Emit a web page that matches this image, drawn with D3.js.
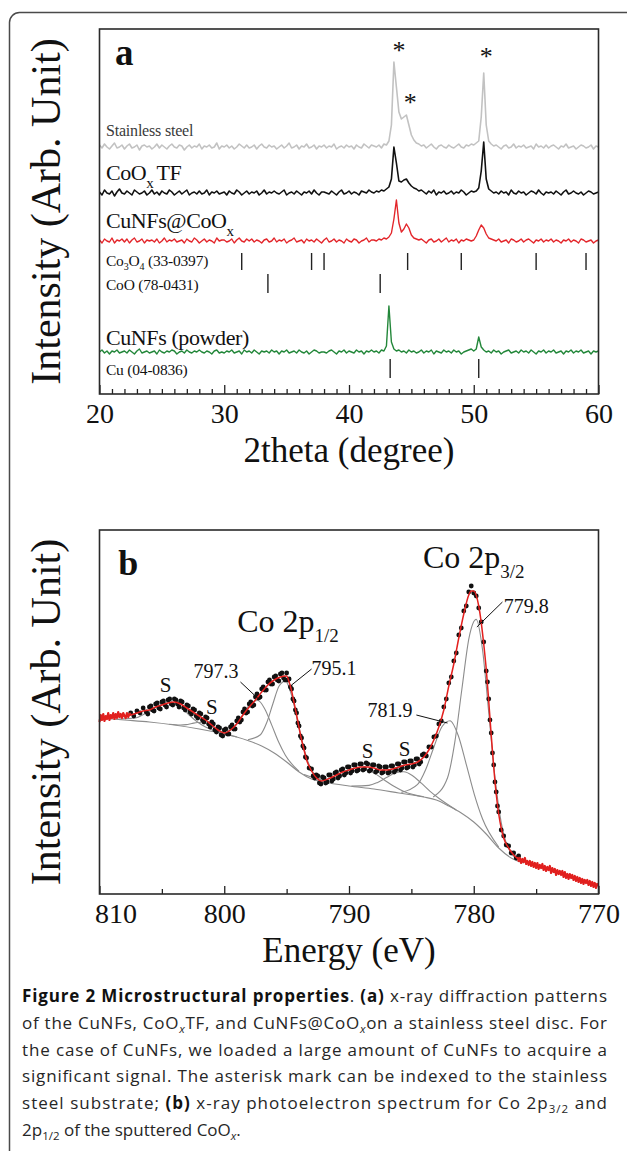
<!DOCTYPE html>
<html>
<head>
<meta charset="utf-8">
<script src="https://cdn.jsdelivr.net/npm/d3@7/dist/d3.min.js"></script>
<style>
  html, body { margin:0; padding:0; background:#fff; }
  svg { display:block; }
  text { white-space: pre; }
</style>
</head>
<body>
<svg id="fig" width="627" height="1151" xmlns="http://www.w3.org/2000/svg"></svg>
<script>
// ================= DATA: panel (a) X-ray diffraction =================
const scanStart = 20;   // first 2theta of scan (degree)
const scanStep = 0.2;   // scan step (degree)
const steelCounts = [
 2,-1,3,0,-2,1,4,-1,0,2, -2,1,3,-1,0,2,-3,1,2,0, 1,-2,0,3,-1,2,0,-2,1,3, 0,-1,2,1,-3,0,2,-1,1,0,
 3,-2,1,0,2,-1,0,4,-2,1, 0,2,-1,1,-2,0,3,1,-1,2, -1,0,2,-2,1,3,0,-1,2,0, 1,-2,0,2,-1,1,4,-1,0,2,
 -2,1,0,3,-1,0,2,-2,1,0, 2,-1,1,0,3,-2,0,1,-1,2, 0,1,-2,2,0,-1,3,1,-1,2, 1,0,2,-1,3,2,6,22,85,60,
 35,28,30,32,22,12,7,4,3,1, 2,-1,1,3,0,-2,1,2,0,-1, 2,0,-1,1,3,0,-1,2,1,3, 2,4,6,30,74,22,6,3,1,2,
 0,-2,1,2,-1,0,3,-1,1,0, 2,-1,0,1,-2,3,0,1,-1,2, -1,1,2,0,-2,1,0,3,-1,0, 1,-2,0,2,1,-1,0,2,-2,1, 0];
const coTFCounts = [
 1,-2,3,0,-1,2,-3,1,4,0, -1,2,0,-2,3,1,-1,0,2,-2, 0,3,-1,1,-2,2,0,-1,3,1, -2,0,2,-1,1,3,-2,0,1,-1,
 2,-1,0,3,-2,1,0,2,-1,0, 1,-2,2,0,-1,3,1,-2,0,2, -1,1,0,2,-2,0,3,-1,1,0, 2,0,-1,1,3,-2,0,1,-1,2,
 0,-2,1,0,2,-1,3,0,-2,1, 1,0,-1,2,0,-2,1,3,-1,0, 2,-1,1,0,-2,2,1,0,3,1, 0,2,1,3,2,4,6,14,46,30,
 12,11,13,14,10,7,5,4,2,3, 1,-1,2,0,3,-2,1,0,2,-1, 0,2,-1,1,0,3,1,-2,0,2, 1,2,5,22,51,14,4,2,0,1,
 -1,2,0,1,-2,3,0,-1,2,0, 1,-2,0,2,1,-1,3,0,-2,1, 0,1,-1,2,0,-2,1,3,-1,0, 2,0,-1,1,-2,0,2,1,-1,0, 1];
const cuCoCounts = [
 1,-2,2,0,-1,3,-2,1,0,2, -1,2,-2,1,3,-1,0,2,-2,1, 0,1,-1,2,-2,0,3,-1,1,0, 2,-1,0,1,-2,2,0,-1,3,1,
 -2,0,2,-1,1,0,-2,3,0,1, 1,-1,0,2,-2,1,3,0,-1,2, 0,2,-1,1,0,-2,1,2,-1,0, 3,-1,1,0,2,-2,0,1,3,-1,
 0,1,-2,2,0,1,-1,2,0,-2, 1,3,-1,0,2,-1,1,0,-2,2, 0,-1,2,1,-2,0,1,3,-1,1, 1,0,2,1,3,2,4,8,22,41,
 18,9,12,17,13,6,3,2,1,2, 0,-2,1,2,-1,0,2,-1,1,3, -1,1,0,2,-2,1,0,2,1,0, 1,5,11,16,13,7,3,2,1,0,
 2,-1,0,1,-2,2,1,-1,0,2, -1,1,2,0,-2,1,0,2,-1,1, 0,2,-1,1,0,-2,1,0,2,-1, 1,0,-2,2,1,-1,0,1,-2,0, 1];
const cuNFCounts = [
 0,2,-1,1,-2,1,0,2,-1,0, 1,-1,2,0,-2,1,3,-1,0,1, -1,0,1,-2,2,0,-1,1,0,2, 1,-2,0,1,-1,2,0,-1,1,0,
 2,0,-1,1,0,-2,1,2,-1,0, -1,1,0,2,-1,0,1,-2,2,0, 1,-1,2,0,-2,1,0,1,-1,2, 0,1,-2,1,0,2,-1,0,1,-1,
 2,0,-1,1,-2,0,2,1,-1,0, 0,-1,1,2,0,-2,1,0,2,-1, 1,0,-1,2,0,1,-2,1,0,2, 0,1,-1,2,1,6,46,10,3,1,
 2,0,1,-1,2,0,1,-1,0,2, -1,1,0,2,-2,1,0,-1,2,0, 1,-1,2,0,1,-2,0,1,2,3, 1,3,15,5,2,0,1,-1,2,0,
 1,-2,0,1,2,-1,0,1,-1,2, 0,1,-1,2,0,-2,1,0,2,-1, 1,0,2,-1,0,1,-2,1,0,2, -1,1,0,2,-1,0,1,-2,1,0, 1];
const traceOffsets = [247, 201, 153, 42];
const co3o4Lines = [31.4, 37.0, 38.0, 44.7, 49.0, 55.0, 59.0];  // Co3O4 (33-0397)
const cooLines = [33.5, 42.5];                                   // CoO (78-0431)
const cuLines = [43.3, 50.4];                                    // Cu (04-0836)
const xrdMajorTicks = [20, 30, 40, 50, 60];
const xrdMinorTicks = [21,22,23,24,25,26,27,28,29,31,32,33,34,35,36,37,38,39,41,42,43,44,45,46,47,48,49,51,52,53,54,55,56,57,58,59];
const asteriskPeaks = [[44.0, 347], [44.9, 295], [51.0, 341]];

// ================= DATA: panel (b) XPS Co 2p =================
const xpsFit = [[810,175],[809.5,176],[809,177],[808.5,178],[808,178],[807.5,179],[807,181],[806.5,183],[806,184],[805.5,187],[805,189],[804.5,191],[804,192],[803.5,190],[803,186],[802.5,182],[802,178],[801.5,174],[801,169],[800.5,164],[800,161],[799.5,164],[799,170],[798.5,179],[798,187],[797.5,194],[797,202],[796.5,209],[796,214],[795.5,217],[795,218],[794.8,212],[794.6,203],[794.4,191],[794.2,179],[794,166],[793.8,154],[793.6,144],[793.4,134],[793.2,128],[793,123],[792.6,116],[792.2,113],[791.5,116],[791,119],[790.5,122],[790,124],[789.5,126],[789,127],[788.5,127],[788,126],[787.5,124],[787,124],[786.5,125],[786,127],[785.5,129],[785,130],[784.5,132],[784,137],[783.6,144],[783.2,154],[782.8,167],[782.4,184],[782,208],[781.6,230],[781.2,256],[780.8,280],[780.4,299],[780.2,303],[780,303],[779.6,288],[779.2,250],[779,225],[778.8,193],[778.6,159],[778.4,127],[778.2,100],[778,80],[777.8,66],[777.6,56],[777.2,46],[776.8,39],[776.4,35],[776,33],[775,28],[774,25],[773,21],[772,17],[771,13],[770,9]];
const xpsDots = [[807.5,181],[807.25,178],[807,183],[806.75,181],[806.5,186],[806.25,182],[806,187],[805.75,184],[805.5,190],[805.25,186],[805,192],[804.75,189],[804.5,194],[804.25,190],[804,195],[803.75,190],[803.5,193],[803.25,186],[803,189],[802.75,182],[802.5,185],[802.25,178],[802,181],[801.75,174],[801.5,177],[801.25,170],[801,172],[800.75,164],[800.5,167],[800.25,159],[800,164],[799.75,160],[799.5,167],[799.25,165],[799,173],[798.75,172],[798.5,182],[798.25,181],[798,190],[797.75,188],[797.5,197],[797.25,196],[797,205],[796.75,204],[796.5,212],[796.25,210],[796,217],[795.75,214],[795.5,220],[795.25,216],[795,221],[794.9,214],[794.8,215],[794.7,207],[794.6,205],[794.5,195],[794.4,193],[794.3,184],[794.2,181],[794.1,171],[794,168],[793.9,158],[793.8,156],[793.7,148],[793.6,146],[793.5,137],[793.4,136],[793.2,126],[793,125],[792.75,116],[792.5,118],[792.25,110],[792,116],[791.75,112],[791.5,119],[791.25,115],[791,122],[790.75,118],[790.5,125],[790.25,121],[790,127],[789.75,123],[789.5,129],[789.25,124],[789,130],[788.75,125],[788.5,130],[788.25,124],[788,129],[787.75,123],[787.5,127],[787.25,122],[787,127],[786.75,122],[786.5,128],[786.25,124],[786,130],[785.75,126],[785.5,132],[785.25,127],[785,133],[784.75,129],[784.5,135],[784.25,132],[784,140],[783.8,138],[783.6,147],[783.4,147],[783.2,157],[783,158],[782.8,170],[782.6,173],[782.4,187],[782.2,195],[782,211],[781.8,217],[781.6,233],[781.4,241],[781.2,259],[781,266],[780.8,283],[780.6,288],[780.4,302],[780.2,308],[780,301],[779.8,298],[779.6,286],[779.4,272],[779.2,252],[779,223],[778.9,212],[778.8,195],[778.7,174],[778.6,161],[778.5,141],[778.4,129],[778.3,112],[778.2,102],[778.1,88],[778,82],[777.8,64],[777.6,58],[777.4,49],[777.2,48],[777,41],[776.8,41],[776.6,36],[776.4,38]];
const xpsDotsExtra = [[806.125,180],[805.875,188],[805.625,183],[805.375,191],[805.125,185],[804.875,193],[804.625,187],[804.375,195],[804.125,189],[803.875,194],[803.625,187],[803.375,192],[803.125,184],[802.875,188],[802.625,180],[802.375,184],[802.125,176],[801.875,180],[801.625,172],[801.375,176],[801.125,167],[800.875,170],[800.625,162],[800.375,166],[800.125,158],[799.875,165],[799.625,160],[799.375,169],[799.125,165],[798.875,176],[798.625,174],[798.375,185],[798.125,182],[797.875,192],[797.625,189],[797.375,200],[797.125,197],[796.875,207],[796.625,204],[796.375,214],[796.125,210],[795.875,218],[795.625,213],[795.375,221],[795.125,214],
 [792.875,118],[792.625,119],[792.375,111],[792.125,117],[791.875,111],[791.625,119],[791.375,113],[791.125,121],[790.875,116],[790.625,124],[790.375,119],[790.125,127],[789.875,121],[789.625,129],[789.375,123],[789.125,130],[788.875,124],[788.625,131],[788.375,123],[788.125,129],[787.875,122],[787.625,128],[787.375,121],[787.125,127],[786.875,121],[786.625,128],[786.375,122],[786.125,130],[785.875,124],[785.625,132],[785.375,126],[785.125,133],[784.875,127],[784.625,135],[784.375,130],[784.125,139]];
const xpsRawLeft = [[810,172],[809.9,179],[809.8,174],[809.7,180],[809.6,173],[809.5,178],[809.4,175],[809.3,181],[809.2,174],[809.1,179],[809,176],[808.9,181],[808.8,175],[808.7,180],[808.6,176],[808.5,182],[808.4,177],[808.3,180],[808.2,176],[808.1,181],[808,178],[807.9,176],[807.8,181],[807.7,177],[807.6,180],[807.5,181]];
const xpsRawRight = [[776.5,37],[776.4,33],[776.3,36],[776.2,31],[776.1,35],[776,32],[775.9,36],[775.8,30],[775.7,33],[775.6,29],[775.5,33],[775.4,28],[775.3,32],[775.2,27],[775.1,31],[775,26],[774.9,31],[774.8,25],[774.7,29],[774.6,26],[774.5,30],[774.4,24],[774.3,28],[774.2,23],[774.1,27],[774,24],[773.9,28],[773.8,21],[773.7,26],[773.6,22],[773.5,25],[773.4,19],[773.3,24],[773.2,20],[773.1,23],[773,19],[772.9,23],[772.8,17],[772.7,22],[772.6,16],[772.5,20],[772.4,15],[772.3,20],[772.2,16],[772.1,19],[772,14],[771.9,18],[771.8,13],[771.7,17],[771.6,12],[771.5,16],[771.4,11],[771.3,15],[771.2,10],[771.1,14],[771,11],[770.9,14],[770.8,9],[770.7,13],[770.6,8],[770.5,12],[770.4,7],[770.3,11],[770.2,6],[770.1,10],[770,8]];
const xpsBackground = [[810,176],[808,174],[806,172],[804,169],[802,165],[800,160],[799,157],[798,153],[797,148],[796,141],[795,132],[794,122],[793,115],[792,112],[790,108],[788,105],[786,101],[784,97],[783,94],[782,88],[781,81],[780,72],[779,60],[778,46],[777,36],[776,31]];
const compS1 = [[808.5,175],[807.1,176],[806.4,180],[805.7,185],[805,190],[804.3,191.5],[803.6,188],[802.9,180],[802.2,172.5],[801.5,167],[800.1,160.5]];
const compS2 = [[804.4,169.7],[803.5,169],[803.05,169.4],[802.6,170.5],[802.15,171.5],[801.7,171.3],[801.25,169.3],[800.8,166.3],[800.35,163.2],[799.9,160.6],[799,157.1]];
const comp7973 = [[800.6,162],[799.5,164.4],[798.95,171.1],[798.4,181.3],[797.85,191.1],[797.3,193.5],[796.75,185.1],[796.2,169.1],[795.65,152.2],[795.1,138.8],[794,122.5]];
const comp7951 = [[798.1,154.3],[797.1,159.3],[796.6,171.2],[796.1,190.3],[795.6,208],[795.1,212.9],[794.6,198.6],[794.1,171.6],[793.6,145.2],[793.1,126.5],[792.1,113.2]];
const compS3 = [[793.6,119.4],[792,114.4],[791.2,116.3],[790.4,119.7],[789.6,123.3],[788.8,124.2],[788,120.9],[787.2,114.3],[786.4,107.7],[785.6,102.6],[784,97.2]];
const compS4 = [[789.8,107.9],[788.4,108.6],[787.7,111.6],[787,116.4],[786.3,121],[785.6,122.2],[784.9,118.2],[784.2,110.8],[783.5,102.7],[782.8,95.8],[781.4,84]];
const comp7819 = [[785.8,101.6],[784.5,109.6],[783.85,124.5],[783.2,146.8],[782.55,167.2],[781.9,173.3],[781.25,158.7],[780.6,129.6],[779.95,99.4],[779.3,75.2],[778,47]];
const comp7798 = [[783.25,97],[782.1,116.3],[781.525,151.3],[780.95,205],[780.375,256.4],[779.8,274.6],[779.3,244.6],[778.8,181.6],[778.3,116.8],[777.8,71.7],[776.8,37.3]];
const xpsMajorTicks = [810, 800, 790, 780, 770];
const xpsMinorTicks = [805, 795, 785, 775];
const peakValues = ["797.3", "795.1", "781.9", "779.8"];

// ================= RENDER =================
const svg = d3.select("#fig");
const serif = "'Liberation Serif','Times New Roman',Times,serif";
const sans = "'Open Sans','Noto Sans','DejaVu Sans',sans-serif";

// outer rounded frame (right/bottom sides run off the page)
svg.append("rect").attr("x", 9.5).attr("y", 12.5).attr("width", 680).attr("height", 1170)
  .attr("rx", 10).attr("fill", "none").attr("stroke", "#4a4a4a").attr("stroke-width", 1.5);

function rich(g, x, y, size, segs, opt = {}) {
  const t = g.append("text").attr("x", x).attr("y", y).attr("font-family", serif)
    .attr("font-size", size).attr("fill", opt.fill || "#111");
  if (opt.anchor) t.attr("text-anchor", opt.anchor);
  if (opt.ls != null) t.attr("letter-spacing", opt.ls);
  const sdy = opt.subDy != null ? opt.subDy : size * 0.36;
  const ssz = opt.subSize != null ? opt.subSize : size * 0.65;
  let down = false;
  segs.forEach(s => {
    const str = Array.isArray(s) ? s[0] : s;
    const sub = Array.isArray(s) && s[1] === "sub";
    const sp = t.append("tspan").text(str);
    if (sub) { sp.attr("font-size", ssz); if (!down) { sp.attr("dy", sdy); down = true; } }
    else if (down) { sp.attr("dy", -sdy); down = false; if (opt.afterSubDx) sp.attr("dx", opt.afterSubDx); }
  });
  return t;
}

function yTitle(cy) {
  svg.append("text").attr("transform", `translate(60,${cy}) rotate(-90)`)
    .attr("text-anchor", "middle").attr("font-family", serif).attr("font-size", 42)
    .attr("fill", "#111").text("Intensity (Arb. Unit)");
}

// ---------- Panel (a) ----------
const A = { left: 99.5, right: 598.5, top: 29, bottom: 394 };
const xA = d3.scaleLinear().domain([20, 60]).range([A.left, A.right]);
const yA = d3.scaleLinear().domain([0, 365]).range([A.bottom, A.top]);
const gA = svg.append("g");

const traceColors = ["#c2c2c2", "#111111", "#e3262b", "#23873a"];
const traceWidths = [1.6, 1.6, 1.4, 1.4];
[steelCounts, coTFCounts, cuCoCounts, cuNFCounts].forEach((arr, k) => {
  const line = d3.line().x((d, i) => xA(scanStart + i * scanStep)).y(d => yA(d + traceOffsets[k]));
  gA.append("path").datum(arr).attr("d", line).attr("fill", "none")
    .attr("stroke", traceColors[k]).attr("stroke-width", traceWidths[k]).attr("stroke-linejoin", "round");
});

// reference (JCPDS) stick positions
[[co3o4Lines, 124, 141], [cooLines, 101, 120], [cuLines, 16, 35]].forEach(([pos, lo, hi]) => {
  gA.selectAll(null).data(pos).enter().append("line")
    .attr("x1", d => xA(d)).attr("x2", d => xA(d)).attr("y1", yA(lo)).attr("y2", yA(hi))
    .attr("stroke", "#222").attr("stroke-width", 1.4);
});

// asterisks
gA.selectAll(null).data(asteriskPeaks).enter().append("text")
  .attr("x", d => xA(d[0])).attr("y", d => yA(d[1]) + 12).attr("text-anchor", "middle")
  .attr("font-family", serif).attr("font-size", 26).attr("fill", "#111").text("*");

// trace labels
rich(gA, xA(20.52), yA(258), 16, ["Stainless steel"], { fill: "#3a3a3a", ls: -0.2 });
rich(gA, xA(20.52), yA(214), 22, ["CoO", ["x", "sub"], "TF"], { ls: -0.4, subSize: 15, subDy: 8, afterSubDx: 3 });
rich(gA, xA(20.52), yA(166), 22, ["CuNFs@CoO", ["x", "sub"]], { ls: -0.4, subSize: 15, subDy: 8 });
rich(gA, xA(20.52), yA(128), 15.5, ["Co", ["3", "sub"], "O", ["4", "sub"], " (33-0397)"], { ls: -0.2, subSize: 10, subDy: 4 });
rich(gA, xA(20.52), yA(104), 15.5, ["CoO (78-0431)"], { ls: -0.2 });
rich(gA, xA(20.52), yA(49), 22, ["CuNFs (powder)"], { ls: -0.4 });
rich(gA, xA(20.52), yA(19), 15.5, ["Cu (04-0836)"], { ls: -0.2 });

// panel letter
gA.append("text").attr("x", xA(21.24)).attr("y", yA(329)).attr("font-family", serif)
  .attr("font-size", 37).attr("font-weight", 700).attr("fill", "#111").text("a");

// axis
function styleAxis(g) {
  g.select(".domain").remove();
  g.selectAll(".tick line").attr("stroke", "#222").attr("stroke-width", 1.3);
  g.selectAll(".tick text").attr("font-family", serif).attr("font-size", 28).attr("fill", "#111");
}
gA.append("g").attr("transform", `translate(0,${A.bottom})`)
  .call(d3.axisBottom(xA).tickValues(xrdMinorTicks).tickSize(-5).tickFormat("")).call(styleAxis);
gA.append("g").attr("transform", `translate(0,${A.bottom})`)
  .call(d3.axisBottom(xA).tickValues(xrdMajorTicks).tickSizeInner(-9).tickSizeOuter(0).tickPadding(9).tickFormat(d3.format("d")))
  .call(styleAxis);
gA.append("rect").attr("x", A.left).attr("y", A.top).attr("width", A.right - A.left).attr("height", A.bottom - A.top)
  .attr("fill", "none").attr("stroke", "#2a2a2a").attr("stroke-width", 1.6);
gA.append("text").attr("x", (A.left + A.right) / 2).attr("y", 462).attr("text-anchor", "middle")
  .attr("font-family", serif).attr("font-size", 35).attr("fill", "#111").text("2theta (degree)");
yTitle((A.top + A.bottom) / 2);

// ---------- Panel (b) ----------
const B = { left: 99.5, right: 598.5, top: 530, bottom: 894 };
const xB = d3.scaleLinear().domain([810, 770]).range([B.left, B.right]);
const yB = d3.scaleLinear().domain([0, 364]).range([B.bottom, B.top]);
const gB = svg.append("g");
const smooth = d3.line().x(d => xB(d[0])).y(d => yB(d[1])).curve(d3.curveMonotoneX);
const rough = d3.line().x(d => xB(d[0])).y(d => yB(d[1]));

[xpsBackground, compS1, compS2, comp7973, comp7951, compS3, compS4, comp7819, comp7798].forEach(c => {
  gB.append("path").datum(c).attr("d", smooth).attr("fill", "none")
    .attr("stroke", "#8c8c8c").attr("stroke-width", 1.1);
});
gB.selectAll(null).data(xpsDots.concat(xpsDotsExtra)).enter().append("circle")
  .attr("cx", d => xB(d[0])).attr("cy", d => yB(d[1])).attr("r", 2.4).attr("fill", "#111");
[xpsRawLeft, xpsRawRight].forEach(r => {
  gB.append("path").datum(r).attr("d", rough).attr("fill", "none")
    .attr("stroke", "#e0201f").attr("stroke-width", 2.2).attr("stroke-linejoin", "round");
});
gB.append("path").datum(xpsFit).attr("d", smooth).attr("fill", "none")
  .attr("stroke", "#e3201e").attr("stroke-width", 1.5);

// peak labels with leaders
const peakLabelLayout = [
  { t: peakValues[0], at: [798.86, 216], anchor: "end",   from: [798.7, 212], to: [797.25, 195] },
  { t: peakValues[1], at: [793.0, 219],  anchor: "start", from: [793.0, 225], to: [794.6, 209] },
  { t: peakValues[2], at: [784.9, 177],  anchor: "end",   from: [784.6, 179], to: [782.1, 171] },
  { t: peakValues[3], at: [777.6, 281],  anchor: "start", from: [777.7, 292], to: [779.75, 267] }
];
peakLabelLayout.forEach(p => {
  gB.append("line").attr("x1", xB(p.from[0])).attr("y1", yB(p.from[1]))
    .attr("x2", xB(p.to[0])).attr("y2", yB(p.to[1])).attr("stroke", "#111").attr("stroke-width", 1);
  gB.append("text").attr("x", xB(p.at[0])).attr("y", yB(p.at[1])).attr("text-anchor", p.anchor)
    .attr("font-family", serif).attr("font-size", 20).attr("fill", "#111").text(p.t);
});
[[804.7, 202], [801.0, 180], [788.5, 136], [785.55, 138]].forEach(s => {
  gB.append("text").attr("x", xB(s[0])).attr("y", yB(s[1])).attr("text-anchor", "middle")
    .attr("font-family", serif).attr("font-size", 21).attr("fill", "#111").text("S");
});
rich(gB, xB(784.07), yB(326), 32, ["Co 2p", ["3/2", "sub"]], { subSize: 19, subDy: 10 });
rich(gB, xB(798.96), yB(262), 32, ["Co 2p", ["1/2", "sub"]], { subSize: 19, subDy: 10 });
gB.append("text").attr("x", xB(808.5)).attr("y", yB(319)).attr("font-family", serif)
  .attr("font-size", 36).attr("font-weight", 700).attr("fill", "#111").text("b");

gB.append("g").attr("transform", `translate(0,${B.bottom})`)
  .call(d3.axisBottom(xB).tickValues(xpsMinorTicks).tickSize(-5).tickFormat("")).call(styleAxis);
gB.append("g").attr("transform", `translate(0,${B.bottom})`)
  .call(d3.axisBottom(xB).tickValues(xpsMajorTicks).tickSizeInner(-8).tickSizeOuter(0).tickPadding(9).tickFormat(d3.format("d")))
  .call(styleAxis)
  .call(g => g.selectAll(".tick text").attr("dx", d => d === 810 ? 16 : 0));
gB.append("rect").attr("x", B.left).attr("y", B.top).attr("width", B.right - B.left).attr("height", B.bottom - B.top)
  .attr("fill", "none").attr("stroke", "#2a2a2a").attr("stroke-width", 1.6);
gB.append("text").attr("x", (B.left + B.right) / 2).attr("y", 962).attr("text-anchor", "middle")
  .attr("font-family", serif).attr("font-size", 35).attr("fill", "#111").text("Energy (eV)");
yTitle((B.top + B.bottom) / 2);

// ---------- Caption ----------
const captionLines = [
  [["Figure 2 Microstructural properties", "b"], [". ", ""], ["(a)", "b"], [" x-ray diffraction patterns", ""]],
  [["of the CuNFs, CoO", ""], ["x", "si"], ["TF, and CuNFs@CoO", ""], ["x", "si"], ["on a stainless steel disc. For", ""]],
  [["the case of CuNFs, we loaded a large amount of CuNFs to acquire a", ""]],
  [["significant signal. The asterisk mark can be indexed to the stainless", ""]],
  [["steel substrate; ", ""], ["(b)", "b"], [" x-ray photoelectron spectrum for Co 2p", ""], ["3/2", "s"], [" and", ""]],
  [["2p", ""], ["1/2", "s"], [" of the sputtered CoO", ""], ["x", "si"], [".", ""]]
];
captionLines.forEach((segs, li) => {
  const t = svg.append("text").attr("x", 22).attr("y", 1002 + li * 26.8)
    .attr("font-family", sans).attr("font-size", 17).attr("fill", "#262626");
  let down = false;
  segs.forEach(([str, fl]) => {
    const sp = t.append("tspan").text(str);
    const isSub = fl.includes("s");
    if (fl.includes("b")) sp.attr("font-weight", 700).attr("fill", "#111");
    if (fl.includes("i")) sp.attr("font-style", "italic");
    if (isSub) { sp.attr("font-size", 11.5); if (!down) { sp.attr("dy", 4); down = true; } }
    else if (down) { sp.attr("dy", -4); down = false; }
  });
  if (li < captionLines.length - 1) t.attr("textLength", 585).attr("lengthAdjust", "spacing");
});
</script>
</body>
</html>
